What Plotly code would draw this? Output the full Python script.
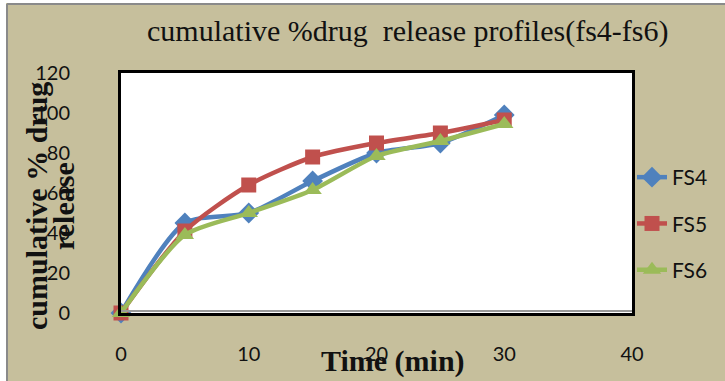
import plotly.graph_objects as go

time_min = [0, 5, 10, 15, 20, 25, 30]
fs4 = [0, 45, 50, 66, 80, 85, 99]
fs5 = [0, 41, 64, 78, 85, 90, 96.5]
fs6 = [0, 39, 50, 61.5, 78.5, 86, 94.5]
series_names = ["FS4", "FS5", "FS6"]
x_ticks = [0, 10, 20, 30, 40]
y_ticks = [0, 20, 40, 60, 80, 100, 120]

W, H = 725, 381
L, R, T, B = 121, 93, 73, 68
PW, PH = W - L - R, H - T - B

def px_x(p):
    return (p - L) / PW

def px_y(p):
    return 1 - (p - T) / PH

TAN = "#C6BF9C"
styles = [
    ("#4F81BD", "diamond", 16),
    ("#C0504D", "square", 15),
    ("#9BBB59", "triangle-up", 16),
]

fig = go.Figure()
for i, (name, vals) in enumerate(zip(series_names, [fs4, fs5, fs6])):
    color, sym, size = styles[i]
    fig.add_trace(go.Scatter(
        x=time_min, y=vals, name=name, mode="lines+markers",
        line=dict(color=color, width=4.5, shape="spline", smoothing=0.7),
        marker=dict(symbol=sym, size=size, color=color),
        cliponaxis=False, legendgroup=name,
    ))

tick_font = dict(family="Lato, Open Sans, sans-serif", size=20, color="#111111")
fig.update_layout(
    width=W, height=H,
    margin=dict(l=L, r=R, t=T, b=B),
    paper_bgcolor=TAN, plot_bgcolor="white",
    showlegend=True,
    legend=dict(x=px_x(632), y=px_y(157), xanchor="left", yanchor="top",
                bgcolor="rgba(0,0,0,0)",
                font=dict(family="Lato, Open Sans, sans-serif", size=21, color="#111111"),
                tracegroupgap=16, itemwidth=30),
    xaxis=dict(range=[0, 40], tickvals=x_ticks, showgrid=False, zeroline=False,
               showline=True, mirror=True, linecolor="black", linewidth=3,
               ticks="", tickfont=tick_font, ticklabelstandoff=21),
    yaxis=dict(range=[0, 120], tickvals=y_ticks, showgrid=False, zeroline=False,
               showline=True, mirror=True, linecolor="black", linewidth=3,
               ticks="", tickfont=tick_font, ticklabelstandoff=44),
    font=dict(family="Liberation Serif, Times New Roman, serif"),
)

# outer frame (white outside, gray border)
fig.add_shape(type="rect", xref="paper", yref="paper",
              x0=px_x(-5), x1=px_x(6), y0=px_y(400), y1=px_y(-5),
              fillcolor="white", line_width=0)
fig.add_shape(type="rect", xref="paper", yref="paper",
              x0=px_x(-5), x1=px_x(740), y0=px_y(3), y1=px_y(-5),
              fillcolor="white", line_width=0)
fig.add_shape(type="line", xref="paper", yref="paper",
              x0=px_x(7), x1=px_x(740), y0=px_y(4), y1=px_y(4),
              line=dict(color="#8A8A8A", width=2))
fig.add_shape(type="line", xref="paper", yref="paper",
              x0=px_x(7), x1=px_x(7), y0=px_y(400), y1=px_y(4),
              line=dict(color="#8A8A8A", width=2))
# gray shadow at plot bottom
fig.add_shape(type="line", xref="paper", yref="paper",
              x0=0, x1=1, y0=px_y(311), y1=px_y(311),
              line=dict(color="#9A9A9A", width=2))

fig.add_annotation(text="cumulative %drug \u00a0release profiles(fs4-fs6)",
                   xref="paper", yref="paper", x=px_x(407), y=px_y(31),
                   xanchor="center", yanchor="middle", showarrow=False,
                   font=dict(family="Liberation Serif, serif", size=30, color="#111111"))
fig.add_annotation(text="<b>Time (min)</b>",
                   xref="paper", yref="paper", x=px_x(393), y=px_y(361),
                   xanchor="center", yanchor="middle", showarrow=False,
                   font=dict(family="Liberation Serif, serif", size=30, color="#111111"))
fig.add_annotation(text="<b>cumulative % drug</b>",
                   xref="paper", yref="paper", x=px_x(36), y=px_y(206),
                   xanchor="center", yanchor="middle", showarrow=False, textangle=-90,
                   font=dict(family="Liberation Serif, serif", size=30, color="#111111"))
fig.add_annotation(text="<b>release</b>",
                   xref="paper", yref="paper", x=px_x(63), y=px_y(206),
                   xanchor="center", yanchor="middle", showarrow=False, textangle=-90,
                   font=dict(family="Liberation Serif, serif", size=30, color="#111111"))

fig.write_html("out.html")
